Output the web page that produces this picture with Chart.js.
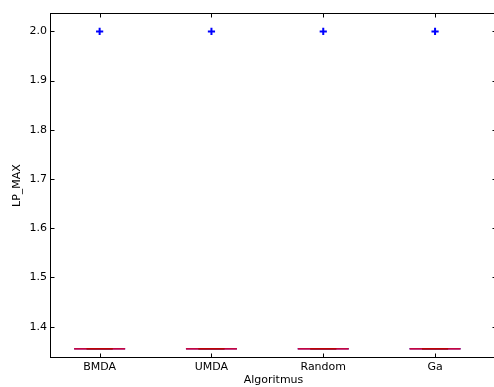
<!DOCTYPE html>
<html>
<head>
<meta charset="utf-8">
<script src="https://cdn.jsdelivr.net/npm/chart.js@4/dist/chart.umd.min.js"></script>
<style>
  html, body { margin: 0; padding: 0; background: #fff; overflow: hidden; }
  canvas { display: block; }
</style>
</head>
<body>
<canvas id="c" width="503" height="387"></canvas>
<script>
// Box-plot summary per algorithm
const categories    = ['BMDA', 'UMDA', 'Random', 'Ga'];
const lowerWhisker  = [1.355, 1.355, 1.355, 1.355];
const q1Values      = [1.355, 1.355, 1.355, 1.355];
const medianValues  = [1.355, 1.355, 1.355, 1.355];
const q3Values      = [1.355, 1.355, 1.355, 1.355];
const upperWhisker  = [1.355, 1.355, 1.355, 1.355];
const outlierValues = [[2.0], [2.0], [2.0], [2.0]];
const yTickValues   = [1.4, 1.5, 1.6, 1.7, 1.8, 1.9, 2.0];

// Drawing constants (in x-axis units)
const BOX_HALF = 0.228;
const CAP_HALF = 0.117;
const BLUE = '#0000ff';
const RED = '#ff0000';
const FONT = { family: '"DejaVu Sans", sans-serif', size: 11, lineHeight: 1.2 };

// lower "order" is painted on top
const seg = (pts, color, width, order, dash) => ({
  type: 'line', data: pts, borderColor: color, borderWidth: width, order,
  borderDash: dash || [], pointRadius: 0, fill: false, tension: 0
});

const datasets = [];
categories.forEach((name, i) => {
  const x = i + 1;
  // whiskers
  datasets.push(seg([{x, y: q1Values[i]}, {x, y: lowerWhisker[i]}], BLUE, 1, 5, [4, 3]));
  datasets.push(seg([{x, y: q3Values[i]}, {x, y: upperWhisker[i]}], BLUE, 1, 5, [4, 3]));
  // box
  datasets.push(seg([
    {x: x - BOX_HALF, y: q1Values[i]}, {x: x + BOX_HALF, y: q1Values[i]},
    {x: x + BOX_HALF, y: q3Values[i]}, {x: x - BOX_HALF, y: q3Values[i]},
    {x: x - BOX_HALF, y: q1Values[i]}
  ], BLUE, 1, 4));
  // caps
  datasets.push(seg([{x: x - CAP_HALF, y: lowerWhisker[i]}, {x: x + CAP_HALF, y: lowerWhisker[i]}], '#000000', 1, 3));
  datasets.push(seg([{x: x - CAP_HALF, y: upperWhisker[i]}, {x: x + CAP_HALF, y: upperWhisker[i]}], '#000000', 1, 3));
  // median
  datasets.push(seg([{x: x - BOX_HALF, y: medianValues[i]}, {x: x + BOX_HALF, y: medianValues[i]}], RED, 1.3, 1));
});
// outliers
datasets.push({
  type: 'scatter', order: 0,
  data: outlierValues.flatMap((vals, i) => vals.map(v => ({x: i + 1, y: v}))),
  pointStyle: 'cross', pointRadius: 3.6, pointBorderWidth: 2,
  borderColor: BLUE, backgroundColor: BLUE, showLine: false
});

// Frame and inward tick marks on all four sides
const framePlugin = {
  id: 'frame',
  afterDraw(chart) {
    const {ctx, chartArea: a, scales} = chart;
    const L = Math.round(a.left) + 0.5, R = Math.round(a.right) - 0.5;
    const T = Math.round(a.top) + 0.5, B = Math.round(a.bottom) - 0.5;
    ctx.save();
    ctx.strokeStyle = '#000';
    ctx.lineWidth = 1;
    ctx.strokeRect(L, T, R - L, B - T);
    ctx.beginPath();
    const len = 4;
    scales.y.ticks.forEach(t => {
      const y = Math.round(scales.y.getPixelForValue(t.value)) + 0.5;
      ctx.moveTo(L, y); ctx.lineTo(L + len, y);
      ctx.moveTo(R, y); ctx.lineTo(R - len, y);
    });
    scales.x.ticks.forEach(t => {
      const x = Math.round(scales.x.getPixelForValue(t.value)) + 0.5;
      ctx.moveTo(x, B); ctx.lineTo(x, B - len);
      ctx.moveTo(x, T); ctx.lineTo(x, T + len);
    });
    ctx.stroke();
    ctx.restore();
  }
};

new Chart(document.getElementById('c'), {
  data: { datasets },
  options: {
    responsive: false,
    animation: false,
    devicePixelRatio: 1,
    layout: { padding: { left: 0, right: 0, top: 13, bottom: 0 } },
    plugins: { legend: { display: false }, tooltip: { enabled: false } },
    scales: {
      x: {
        type: 'linear', position: 'bottom', min: 0.556, max: 4.554,
        grid: { display: false, drawTicks: false },
        border: { display: false },
        afterBuildTicks: s => { s.ticks = categories.map((c, i) => ({ value: i + 1 })); },
        afterFit: s => { s.height = 29; },
        ticks: {
          padding: 3, color: '#000', font: FONT, maxRotation: 0, autoSkip: false,
          callback: v => categories[v - 1]
        },
        title: { display: true, text: 'Algoritmus', color: '#000', font: FONT, padding: { top: 0, bottom: 0 } }
      },
      y: {
        type: 'linear', position: 'left', min: 1.3363, max: 2.0374,
        grid: { display: false, drawTicks: false },
        border: { display: false },
        afterBuildTicks: s => { s.ticks = yTickValues.map(v => ({ value: v })); },
        afterFit: s => { s.width = 50; },
        ticks: {
          padding: 3, color: '#000', font: FONT,
          callback: v => Number(v).toFixed(1)
        },
        title: { display: true, text: 'LP_MAX', color: '#000', font: FONT, padding: { top: 11, bottom: 0 } }
      }
    }
  },
  plugins: [framePlugin]
});
</script>
</body>
</html>
